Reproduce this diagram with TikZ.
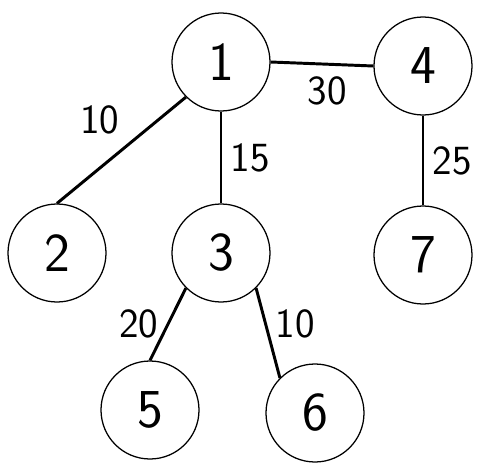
\documentclass[tikz,border=0pt]{standalone}
\usepackage{fontspec}
\usetikzlibrary{positioning}

\begin{document}
\begin{tikzpicture}[on grid,
        vertex/.style={circle,draw,line width=0.9pt,minimum size=2.45cm,inner sep=0pt,
                       font=\fontsize{39}{40}\selectfont\sffamily},
        weight/.style={font=\fontsize{29.5}{30}\selectfont\sffamily,inner sep=6pt},
        link/.style={line width=2.1pt}]
                \useasboundingbox (0,0) rectangle (12.15,11.85);
                \node[vertex] (n1) at (5.525,10.3) {1};
                \node[vertex] [below right=0.1cm and 5.05cm of n1] (n4) {4};
                \node[vertex] [below=4.775cm of n1] (n3) {3};
                \node[vertex] [left=4.1cm of n3] (n2) {2};
                \node[vertex] [below=4.725cm of n4] (n7) {7};
                \node[vertex] [below left=3.925cm and 1.775cm of n3] (n5) {5};
                \node[vertex] [below right=4cm and 2.35cm of n3] (n6) {6};
                \path[link]
                (n1.east) edge node[weight,pos=0.55,below,inner sep=8pt] {30} (n4.west)
                (n1.south west) edge node[weight,pos=0.44,above left] {10} (n2.north)
                (n1.south) edge node[weight,midway,right] {15} (n3.north)
                (n4.south) edge node[weight,midway,right] {25} (n7.north)
                (n3.south west) edge node[weight,midway,left] {20} (n5.north)
                (n3.south east) edge node[weight,pos=0.4,right] {10} (n6.north west);
             \end{tikzpicture}
\end{document}
